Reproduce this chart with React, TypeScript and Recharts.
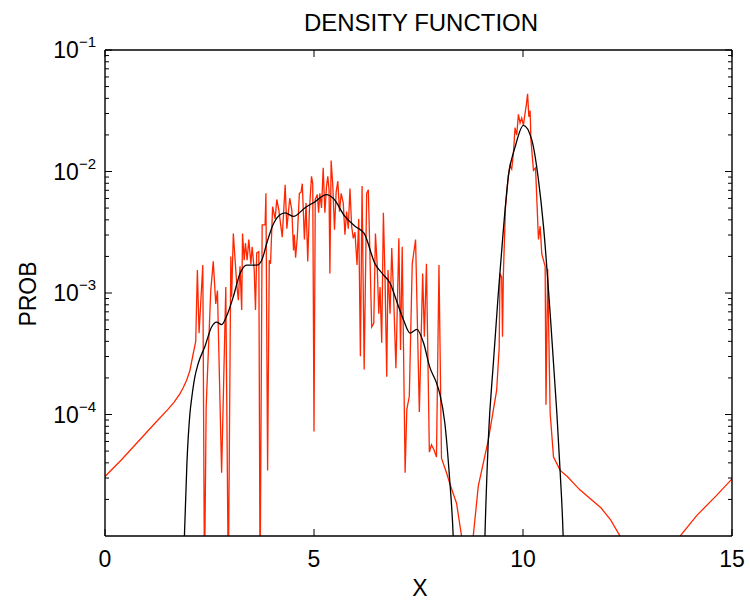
import React from "react";
import { LineChart, Line, XAxis, YAxis } from "recharts";

// red: raw histogram estimate (x, log10 prob)
const redX = [
  0, 0.4, 0.8, 1.2, 1.5, 1.65, 1.79, 1.87, 1.95, 2.03, 2.11, 2.17,
  2.21, 2.25, 2.34, 2.38, 2.42, 2.53, 2.59, 2.65, 2.69, 2.79,
  2.89, 2.95, 3.01, 3.03, 3.07, 3.15, 3.19, 3.23, 3.27, 3.29,
  3.33, 3.36, 3.4, 3.44, 3.49, 3.52, 3.57, 3.6, 3.63, 3.68,
  3.71, 3.76, 3.83, 3.85, 3.89, 3.93, 3.96, 4.01, 4.07, 4.11,
  4.16, 4.24, 4.31, 4.35, 4.42, 4.47, 4.51, 4.53, 4.56, 4.6,
  4.65, 4.69, 4.72, 4.77, 4.81, 4.85, 4.89, 4.94, 4.97, 5.0,
  5.03, 5.08, 5.11, 5.14, 5.18, 5.22, 5.26, 5.3, 5.33, 5.36,
  5.38, 5.41, 5.45, 5.49, 5.53, 5.57, 5.61, 5.65, 5.7, 5.74,
  5.78, 5.82, 5.86, 5.9, 5.94, 5.98, 6.03, 6.07, 6.11, 6.15,
  6.2, 6.26, 6.3, 6.38, 6.43, 6.47, 6.51, 6.55, 6.58, 6.62,
  6.66, 6.7, 6.74, 6.77, 6.82, 6.86, 6.9, 6.96, 7.03, 7.07,
  7.11, 7.18, 7.22, 7.28, 7.35, 7.43, 7.52, 7.6, 7.64, 7.69,
  7.76, 7.81, 7.87, 7.93, 7.99, 8.05, 8.17, 8.25, 8.41, 8.53,
  8.67, 8.81, 8.93, 9.17, 9.37, 9.43, 9.45, 9.49, 9.51, 9.53,
  9.58, 9.65, 9.69, 9.73, 9.77, 9.81, 9.85, 9.89, 9.93, 9.97,
  10.01, 10.05, 10.08, 10.11, 10.14, 10.17, 10.19, 10.25, 10.3, 10.37,
  10.41, 10.45, 10.53, 10.55, 10.59, 10.65, 10.73, 10.89, 11.06, 11.36,
  11.87, 12.1, 12.32, 12.8, 13.3, 13.76, 14.16, 14.62, 15,
];
const redLog = [
  -4.51, -4.37, -4.22, -4.07, -3.96, -3.9, -3.83, -3.78, -3.72, -3.64, -3.5, -3.4,
  -2.81, -3.33, -2.77, -5.4, -3.94, -2.98, -2.74, -3.09, -2.98, -4.48,
  -2.95, -5.4, -2.7, -3.03, -2.51, -2.92, -3.06, -2.78, -3.14, -2.51,
  -2.73, -2.59, -2.73, -2.56, -2.76, -2.62, -2.81, -3.14, -2.67, -2.66,
  -5.4, -2.44, -2.44, -2.18, -4.46, -2.73, -2.76, -2.29, -2.39, -2.23,
  -2.32, -2.54, -2.11, -2.47, -2.22, -2.32, -2.65, -2.52, -2.71, -2.54,
  -2.18, -2.17, -2.1, -2.56, -2.26, -2.74, -2.32, -2.04, -2.1, -4.14,
  -2.23, -2.19, -2.34, -2.18, -2.3, -1.97, -2.34, -2.12, -2.04, -2.15,
  -2.84, -1.91, -2.12, -2.48, -2.17, -2.08, -2.33, -2.18, -2.26, -2.52,
  -2.33, -2.47, -2.14, -2.45, -2.55, -2.5, -2.77, -2.39, -3.52, -2.12,
  -3.63, -2.18, -2.15, -3.28, -3.25, -2.51, -2.76, -3.17, -2.95, -3.41,
  -2.34, -2.89, -3.69, -2.81, -3.17, -2.63, -2.98, -3.62, -2.55, -3.47,
  -2.62, -4.48, -3.96, -3.85, -2.76, -2.56, -3.98, -2.84, -3.36, -2.76,
  -4.31, -4.25, -4.29, -4.35, -2.77, -4.36, -4.48, -4.57, -4.73, -5.0,
  -6.5, -5.0, -4.59, -4.21, -3.8, -3.45, -2.84, -2.87, -3.36, -2.85,
  -2.3, -2.03, -1.95, -1.98, -1.85, -1.64, -1.7, -1.53, -1.6, -1.56,
  -1.62, -1.52, -1.45, -1.36, -1.55, -1.5, -1.74, -1.99, -1.97, -2.56,
  -2.45, -2.68, -2.78, -3.92, -2.8, -3.99, -4.35, -4.46, -4.51, -4.62,
  -4.77, -4.87, -5.0, -6.5, -6.5, -5.0, -4.83, -4.67, -4.53,
];

// black: smoothed density (x, log10 prob)
const kdeX = [
  1.8, 1.9, 1.96, 2.03, 2.08, 2.15, 2.23, 2.39, 2.55, 2.67,
  2.79, 2.91, 3.07, 3.23, 3.39, 3.63, 3.75, 3.87, 4.03, 4.17,
  4.31, 4.51, 4.78, 5.02, 5.3, 5.46, 5.74, 5.98, 6.2, 6.46,
  6.66, 6.82, 6.98, 7.14, 7.3, 7.46, 7.62, 7.77, 7.93, 8.01,
  8.13, 8.24, 8.33, 8.45, 9.0, 9.09, 9.17, 9.29, 9.41, 9.53,
  9.65, 9.81, 10.01, 10.21, 10.37, 10.49, 10.65, 10.81, 10.89, 10.96,
  11.05,
];
const kdeLog = [
  -6.5, -5.0, -4.4, -4.0, -3.85, -3.69, -3.58, -3.44, -3.28, -3.24,
  -3.26, -3.19, -3.03, -2.84, -2.77, -2.77, -2.73, -2.59, -2.43, -2.36,
  -2.34, -2.37, -2.3, -2.25, -2.19, -2.22, -2.37, -2.45, -2.51, -2.76,
  -2.85, -2.92, -3.07, -3.22, -3.33, -3.3, -3.41, -3.61, -3.74, -3.83,
  -4.07, -4.51, -5.0, -6.5, -6.5, -5.0, -4.21, -3.58, -3.0, -2.48,
  -2.04, -1.8, -1.62, -1.74, -2.07, -2.45, -3.17, -3.99, -4.48, -5.0,
  -6.5,
];

const xTicks = [0, 5, 10, 15];
const decades = [-5, -4, -3, -2];
const mantissas = [1, 2, 3, 4, 5, 6, 7, 8, 9];

const yTicks: number[] = [];
decades.forEach((d) =>
  mantissas.forEach((m) => {
    if (!(d === -5 && m === 1)) yTicks.push(m * Math.pow(10, d));
  })
);
yTicks.push(0.1);

const redData = redX.map((x, i) => ({ x, p: Math.pow(10, redLog[i]) }));
const kdeData = kdeX.map((x, i) => ({ x, p: Math.pow(10, kdeLog[i]) }));

const FONT = "'Liberation Sans', Arial, Helvetica, sans-serif";
const RED = "#ff2600";

function isMajor(v: number) {
  const l = Math.log10(v);
  return Math.abs(l - Math.round(l)) < 1e-6;
}

function LeftTick(props: any) {
  const { x, y, payload } = props;
  const major = isMajor(payload.value);
  const e = Math.round(Math.log10(payload.value));
  return (
    <g>
      <line x1={x} x2={x + (major ? 7 : 4)} y1={y} y2={y} stroke="#000" strokeWidth={1} />
      {major && (
        <text x={x - 9} y={y + 8} textAnchor="end" fontSize={23} fill="#000" fontFamily={FONT}>
          10
          <tspan dy={-11} fontSize={15}>{"\u2212" + -e}</tspan>
        </text>
      )}
    </g>
  );
}

function RightTick(props: any) {
  const { x, y, payload } = props;
  const major = isMajor(payload.value);
  return <line x1={x} x2={x - (major ? 7 : 4)} y1={y} y2={y} stroke="#000" strokeWidth={1} />;
}

function BottomTick(props: any) {
  const { x, y, payload } = props;
  return (
    <g>
      <line x1={x} x2={x} y1={y} y2={y - 7} stroke="#000" strokeWidth={1} />
      <text x={x} y={y + 31} textAnchor="middle" fontSize={23} fill="#000" fontFamily={FONT}>
        {payload.value}
      </text>
    </g>
  );
}

function TopTick(props: any) {
  const { x, y } = props;
  return <line x1={x} x2={x} y1={y} y2={y + 7} stroke="#000" strokeWidth={1} />;
}

export default function App() {
  return (
    <div style={{ position: "absolute", left: 0, top: 0, width: 750, height: 601, fontFamily: FONT, background: "#fff" }}>
      <LineChart width={750} height={601} margin={{ top: 40, right: 8, bottom: 25, left: 45 }}>
        <XAxis
          xAxisId="b"
          dataKey="x"
          type="number"
          domain={[0, 15]}
          ticks={xTicks}
          interval={0}
          allowDataOverflow
          height={40}
          tickSize={0}
          tickMargin={0}
          tickLine={false}
          tick={<BottomTick />}
          axisLine={{ stroke: "#000", strokeWidth: 1.4 }}
        />
        <XAxis
          xAxisId="t"
          orientation="top"
          dataKey="x"
          type="number"
          domain={[0, 15]}
          ticks={xTicks}
          interval={0}
          allowDataOverflow
          height={10}
          tickSize={0}
          tickMargin={0}
          tickLine={false}
          tick={<TopTick />}
          axisLine={{ stroke: "#000", strokeWidth: 1.4 }}
        />
        <YAxis
          yAxisId="l"
          type="number"
          scale="log"
          domain={[1e-5, 1e-1]}
          ticks={yTicks}
          interval={0}
          allowDataOverflow
          width={60}
          tickSize={0}
          tickMargin={0}
          tickLine={false}
          tick={<LeftTick />}
          axisLine={{ stroke: "#000", strokeWidth: 1.4 }}
        />
        <YAxis
          yAxisId="r"
          orientation="right"
          type="number"
          scale="log"
          domain={[1e-5, 1e-1]}
          ticks={yTicks}
          interval={0}
          allowDataOverflow
          width={10}
          tickSize={0}
          tickMargin={0}
          tickLine={false}
          tick={<RightTick />}
          axisLine={{ stroke: "#000", strokeWidth: 1.4 }}
        />
        <Line
          xAxisId="b"
          yAxisId="l"
          data={redData}
          dataKey="p"
          type="linear"
          stroke={RED}
          strokeWidth={1.3}
          dot={false}
          isAnimationActive={false}
        />
        <Line
          xAxisId="b"
          yAxisId="l"
          data={kdeData}
          dataKey="p"
          type="monotone"
          stroke="#000"
          strokeWidth={1.3}
          dot={false}
          isAnimationActive={false}
        />
      </LineChart>
      <svg width={750} height={601} style={{ position: "absolute", left: 0, top: 0, pointerEvents: "none" }}>
        <text x={421} y={31} textAnchor="middle" fontSize={24} fill="#000" fontFamily={FONT}>
          DENSITY FUNCTION
        </text>
        <text transform="translate(36,294) rotate(-90)" textAnchor="middle" fontSize={23} fill="#000" fontFamily={FONT}>
          PROB
        </text>
        <text x={420} y={596} textAnchor="middle" fontSize={23} fill="#000" fontFamily={FONT}>
          X
        </text>
      </svg>
    </div>
  );
}
